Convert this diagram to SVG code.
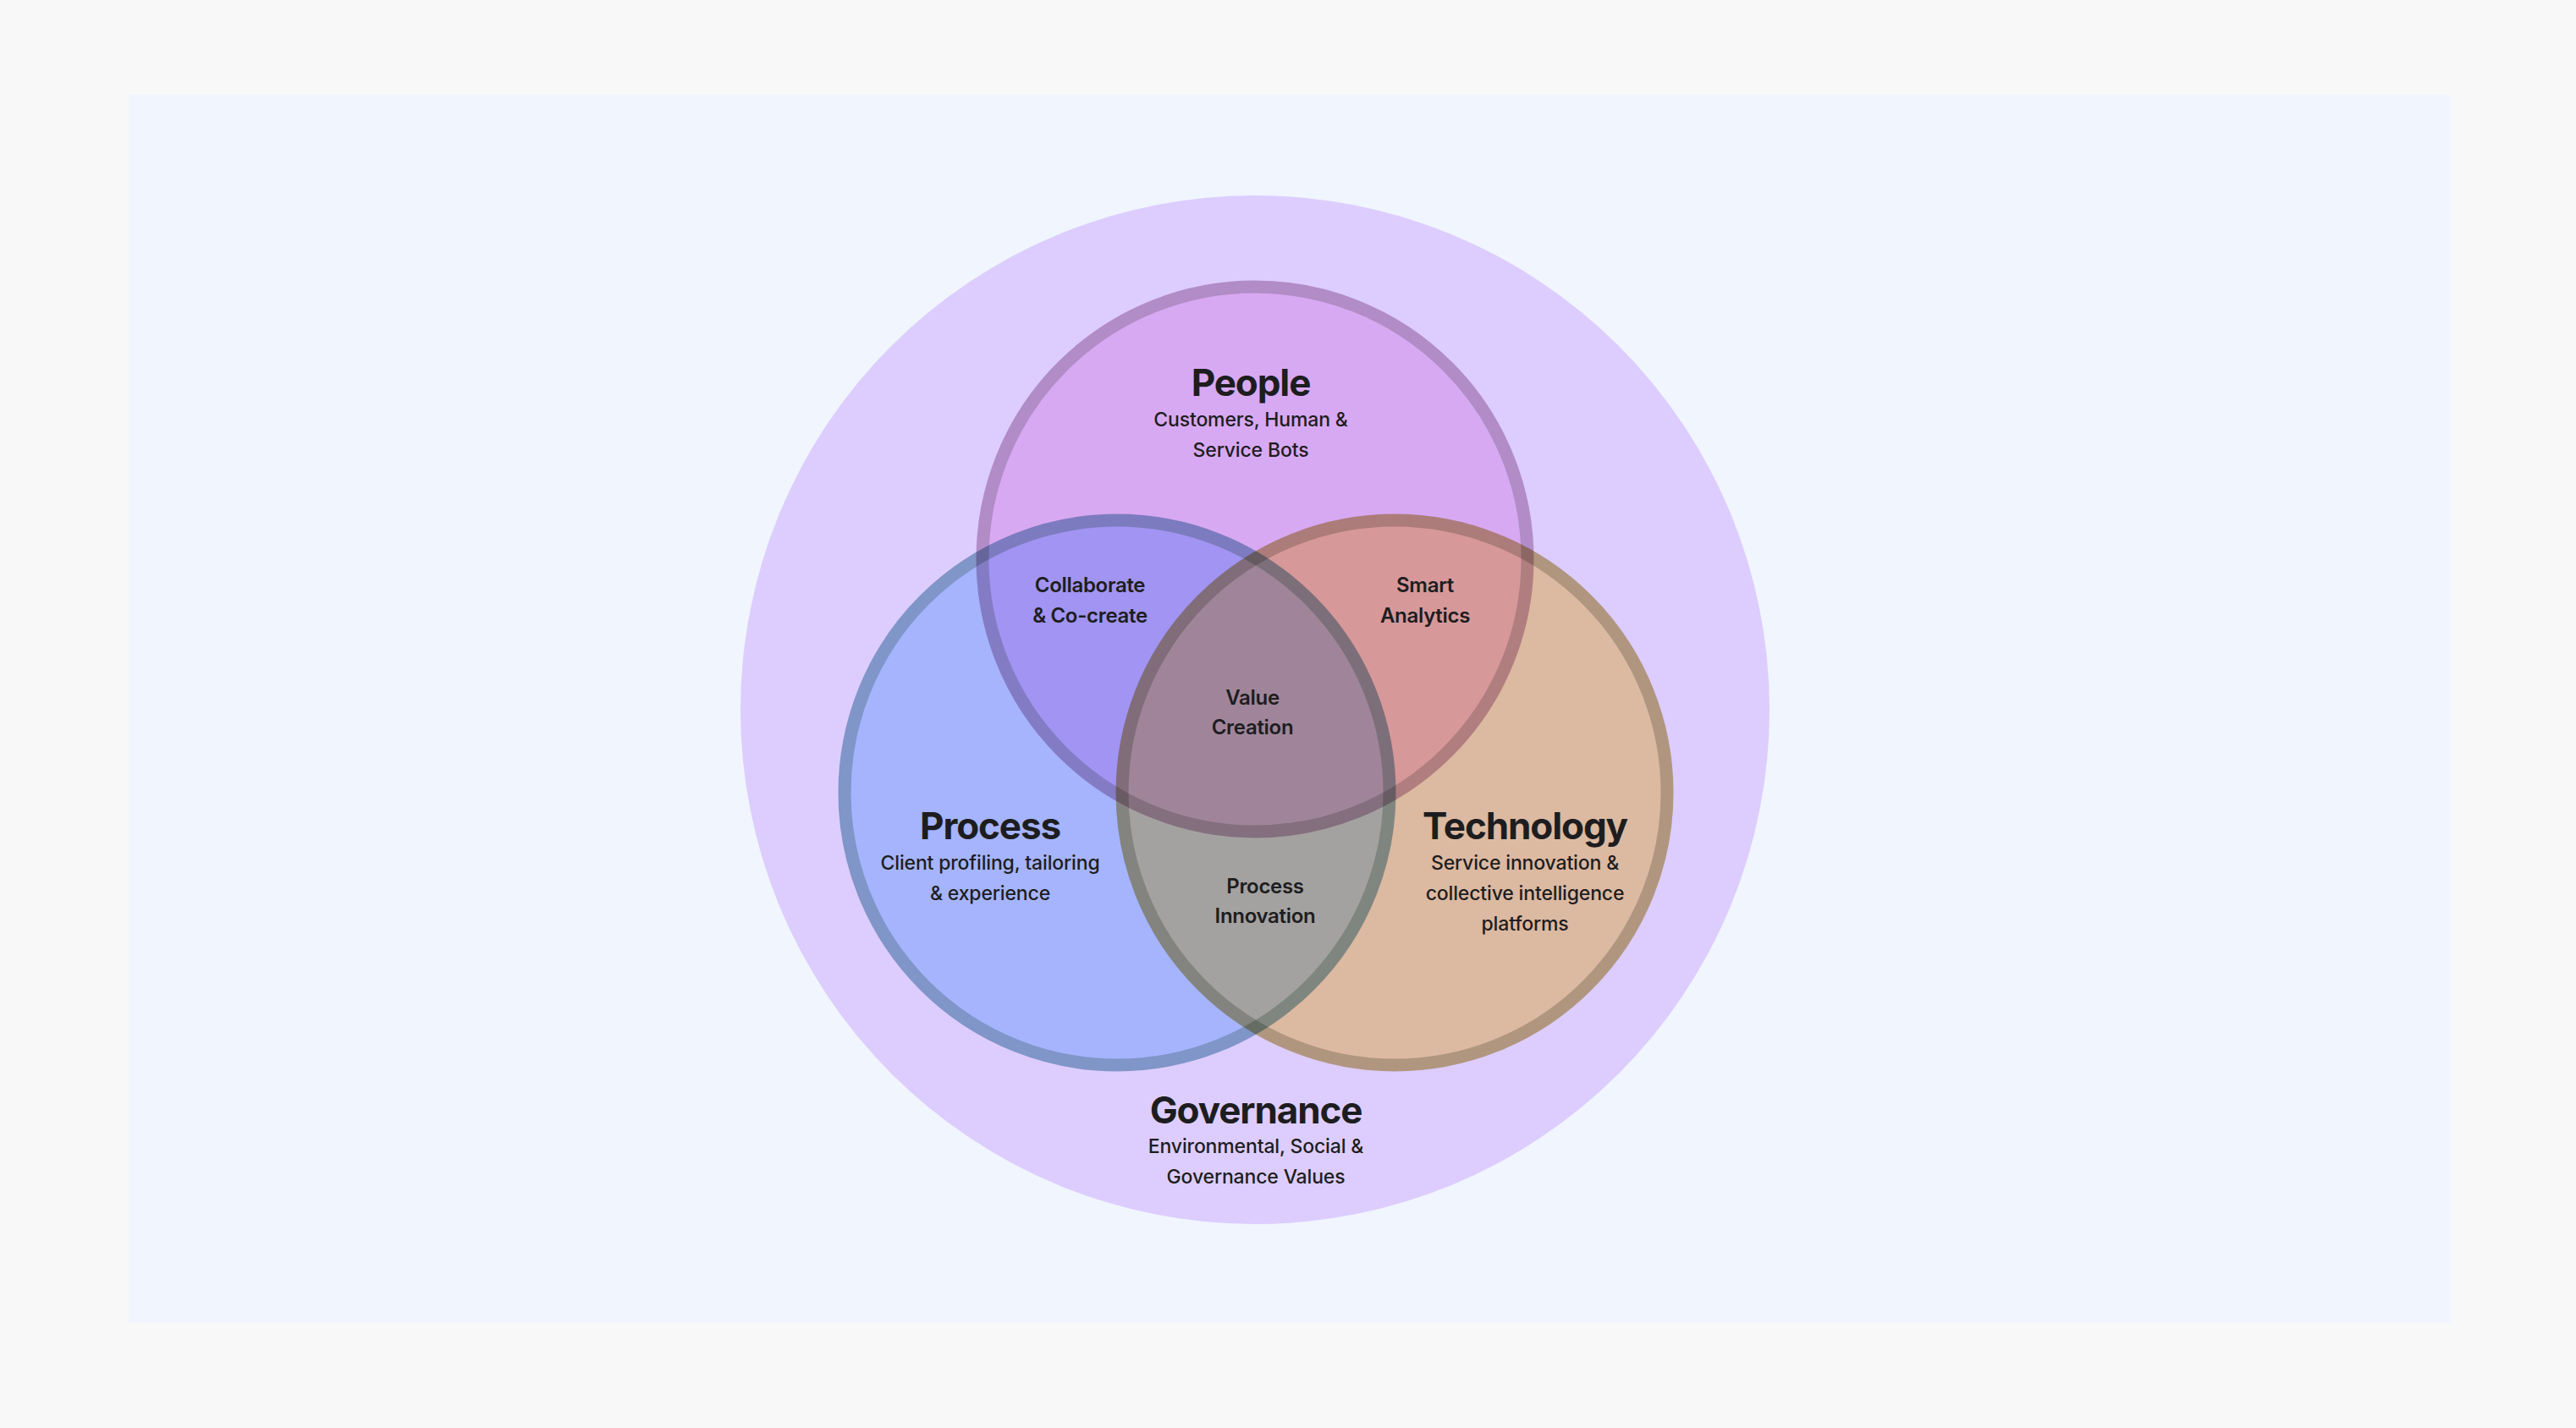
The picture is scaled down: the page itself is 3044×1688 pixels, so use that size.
<svg xmlns="http://www.w3.org/2000/svg" width="3044" height="1688" viewBox="0 0 3044 1688">
  <style>
    text { font-family: Inter, "Noto Sans", "Liberation Sans", sans-serif; fill: #1d1d20; text-anchor: middle; }
    .title { font-size: 44px; font-weight: 700; letter-spacing: -1.1px; }
    .sub { font-size: 23px; font-weight: 500; letter-spacing: -0.15px; }
    .lbl { font-size: 24px; font-weight: 600; letter-spacing: -0.3px; }
    .ring { mix-blend-mode: multiply; stroke-width: 15; }
  </style>
  <rect x="0" y="0" width="3044" height="1688" fill="#f8f8f8"/>
  <rect x="152" y="112" width="2744" height="1452" fill="#f0f5fe"/>
  <g id="diagram" style="isolation:isolate">
    <g id="governance">
      <circle cx="1483" cy="839" r="608" fill="#ddcdfe"/>
    </g>
    <g id="circles">
      <circle id="people-circle" class="ring" cx="1483" cy="661" r="322" fill="#fad2f4" stroke="#cdaec7"/>
      <circle id="process-circle" class="ring" cx="1320" cy="937" r="322" fill="#bee0fe" stroke="#94b9c9"/>
      <circle id="technology-circle" class="ring" cx="1648" cy="937" r="322" fill="#fee6a2" stroke="#cbbb80"/>
    </g>
  </g>
  <g id="people">
    <text class="title" x="1478" y="468">People</text>
    <text class="sub" x="1478" y="504">Customers, Human &amp;</text>
    <text class="sub" x="1478" y="540">Service Bots</text>
  </g>
  <g id="process">
    <text class="title" x="1170" y="992">Process</text>
    <text class="sub" x="1170" y="1028">Client profiling, tailoring</text>
    <text class="sub" x="1170" y="1064">&amp; experience</text>
  </g>
  <g id="technology">
    <text class="title" x="1802" y="992">Technology</text>
    <text class="sub" x="1802" y="1028">Service innovation &amp;</text>
    <text class="sub" x="1802" y="1064">collective intelligence</text>
    <text class="sub" x="1802" y="1100">platforms</text>
  </g>
  <g id="governance-label">
    <text class="title" x="1484" y="1328">Governance</text>
    <text class="sub" x="1484" y="1363">Environmental, Social &amp;</text>
    <text class="sub" x="1484" y="1399">Governance Values</text>
  </g>
  <g id="collaborate">
    <text class="lbl" x="1288" y="700">Collaborate</text>
    <text class="lbl" x="1288" y="736">&amp; Co-create</text>
  </g>
  <g id="smart-analytics">
    <text class="lbl" x="1684" y="700">Smart</text>
    <text class="lbl" x="1684" y="736">Analytics</text>
  </g>
  <g id="value-creation">
    <text class="lbl" x="1480" y="833">Value</text>
    <text class="lbl" x="1480" y="868">Creation</text>
  </g>
  <g id="process-innovation">
    <text class="lbl" x="1495" y="1056">Process</text>
    <text class="lbl" x="1495" y="1091">Innovation</text>
  </g>
</svg>
